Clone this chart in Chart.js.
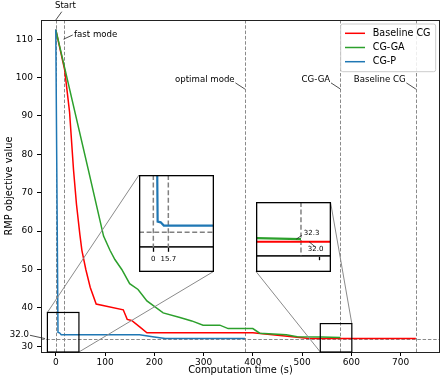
<!DOCTYPE html>
<html><head><meta charset="utf-8">
<script src="https://cdn.jsdelivr.net/npm/chart.js@4.4.1/dist/chart.umd.min.js"></script>
<style>
html,body{margin:0;padding:0;background:#fff;}
#wrap{position:relative;width:444px;height:379px;overflow:hidden;}
#main{position:absolute;left:0;top:0;}
.inset{position:absolute;background:#fff;}
</style></head><body>
<div id="wrap">
<canvas id="main" width="444" height="379"></canvas>
<canvas id="in1" class="inset" width="75" height="97" style="left:139px;top:175px"></canvas>
<canvas id="in2" class="inset" width="75" height="70" style="left:256px;top:202px"></canvas>
</div>
<script>
// ---------------- data ----------------
const seriesNames = ['Baseline CG', 'CG-GA', 'CG-P'];
const baseT = [0, 18, 28, 36, 42, 49, 53, 61, 70, 82, 137, 145, 154, 171, 185, 400, 430, 470, 510, 530, 731];
const baseV = [112.5, 102, 91, 76, 67, 59, 55, 50, 45.3, 41, 39.5, 37, 36.7, 35, 33.5, 33.5, 33.1, 32.6, 32.1, 32.0, 32.0];
const gaT = [0, 66, 97, 110, 120, 134, 150, 167, 185, 218, 252, 276, 299, 333, 350, 400, 414, 468, 490, 540, 578];
const gaV = [112.5, 76, 58.7, 55, 52.6, 50, 46.3, 44.8, 41.8, 38.7, 37.5, 36.6, 35.5, 35.5, 34.6, 34.6, 33.4, 33.0, 32.5, 32.4, 32.3];
const pT = [0, 4.5, 7.7, 11, 170, 200, 222, 384];
const pV = [112.5, 33.6, 33.5, 33.0, 33.0, 32.4, 32.0, 32.0];

const markerT = [0, 15.7, 384, 578, 731];
const markerLabels = ['Start', 'fast mode', 'optimal mode', 'CG-GA', 'Baseline CG'];
const markerAnchorV = [115, 110, 97, 97, 97];
const bestValue = 32.0;
const bestLabel = '32.0';
const bestAnchorT = -22;

const xTicks = [0, 100, 200, 300, 400, 500, 600, 700];
const yTicks = [30, 40, 50, 60, 70, 80, 90, 100, 110];
const xRange = [-30, 780];
const yRange = [28.5, 115];

// zoom windows (source rectangles) and inset axis ranges
const zoom1X = [-17, 47], zoom1Y = [28.5, 38.8];
const zoom2X = [537, 601], zoom2Y = [28.5, 35.9];
const in1X = [-15, 63.5], in1Y = [29.7, 40.7];
const in1Ticks = [0, 15.7], in1TickLabels = ['0', '15.7'];
const in2X = [539.2, 603.9], in2Y = [30.43, 36.48];
const in2Ticks = [594], in2TickLabels = [''];
const gaFinal = 32.3, gaFinalLabel = '32.3', gaFinalAnchorT = 574;
const baseFinal = 32.0, baseFinalLabel = '32.0', baseFinalAnchorT = 585;

// ---------------- style ----------------
const FONT = "'DejaVu Sans', sans-serif";
const RED = '#ff0000', GREEN = '#2ca02c', BLUE = '#1f77b4';
const colors = [RED, GREEN, BLUE];
const pts = (t, v) => t.map((x, i) => ({x: x, y: v[i]}));

function seg(ctx, x1, y1, x2, y2) { ctx.beginPath(); ctx.moveTo(x1, y1); ctx.lineTo(x2, y2); ctx.stroke(); }

const INSET1 = {left: 139, top: 175, w: 75, h: 97};
const INSET2 = {left: 256, top: 202, w: 75, h: 70};

const overlay = {
  id: 'overlay',
  beforeDatasetsDraw(chart) {
    const {ctx, chartArea: a, scales: {x, y}} = chart;
    ctx.save();
    ctx.beginPath(); ctx.rect(a.left, a.top, a.right - a.left, a.bottom - a.top); ctx.clip();
    ctx.strokeStyle = '#8a8a8a'; ctx.lineWidth = 1; ctx.setLineDash([3.5, 1.8]);
    markerT.forEach(t => { const px = Math.round(x.getPixelForValue(t)) + 0.5; seg(ctx, px, a.top, px, a.bottom); });
    const py = Math.round(y.getPixelForValue(bestValue)) + 0.5;
    seg(ctx, a.left, py, a.right, py);
    ctx.restore();
  },
  afterDatasetsDraw(chart) {
    const {ctx, chartArea: a, scales: {x, y}} = chart;
    ctx.save();
    ctx.strokeStyle = '#222'; ctx.lineWidth = 1;
    ctx.strokeRect(a.left + 0.5, a.top + 0.5, a.right - a.left - 1, a.bottom - a.top);
    const r1 = {l: x.getPixelForValue(zoom1X[0]), r: x.getPixelForValue(zoom1X[1]), t: y.getPixelForValue(zoom1Y[1]), b: y.getPixelForValue(zoom1Y[0])};
    const r2 = {l: x.getPixelForValue(zoom2X[0]), r: x.getPixelForValue(zoom2X[1]), t: y.getPixelForValue(zoom2Y[1]), b: y.getPixelForValue(zoom2Y[0])};
    ctx.strokeStyle = '#8a8a8a'; ctx.lineWidth = 1;
    seg(ctx, r1.l, r1.t, INSET1.left, INSET1.top);
    seg(ctx, r1.r, r1.b, INSET1.left + INSET1.w - 0.5, INSET1.top + INSET1.h - 0.5);
    seg(ctx, r2.l, r2.b, INSET2.left, INSET2.top + INSET2.h - 0.5);
    seg(ctx, r2.r, r2.t, INSET2.left + INSET2.w - 0.5, INSET2.top);
    ctx.strokeStyle = '#000'; ctx.lineWidth = 1.2;
    ctx.strokeRect(r1.l, r1.t, r1.r - r1.l, r1.b - r1.t);
    ctx.strokeRect(r2.l, r2.t, r2.r - r2.l, r2.b - r2.t);
    ctx.restore();

    ctx.save();
    ctx.fillStyle = '#000'; ctx.strokeStyle = '#222'; ctx.lineWidth = 0.8;
    ctx.font = '8.6px ' + FONT; ctx.textBaseline = 'middle';
    markerT.forEach((t, i) => {
      const ax = x.getPixelForValue(t), ay = y.getPixelForValue(markerAnchorV[i]);
      if (i === 0) {
        seg(ctx, ax + 6, ay - 8.3, ax, ay);
        ctx.textAlign = 'center'; ctx.fillText(markerLabels[i], ax + 9.7, ay - 14.5);
      } else if (i === 1) {
        seg(ctx, ax + 9.2, ay - 4.2, ax, ay);
        ctx.textAlign = 'left'; ctx.fillText(markerLabels[i], ax + 10.5, ay - 4.2);
      } else {
        seg(ctx, ax - 9.5, ay - 6.2, ax, ay);
        ctx.textAlign = 'right'; ctx.fillText(markerLabels[i], ax - 10.3, ay - 9.3);
      }
    });
    const bx = x.getPixelForValue(bestAnchorT), by = y.getPixelForValue(bestValue);
    seg(ctx, bx - 15, by - 3.3, bx, by);
    ctx.textAlign = 'right'; ctx.fillText(bestLabel, bx - 16, by - 4.3);
    ctx.restore();

    ctx.save();
    const lw = 95, lh = 47.7;
    const lx = a.right - 4.3 - lw, ly = a.top + 4;
    ctx.fillStyle = 'rgba(255,255,255,0.85)'; ctx.strokeStyle = '#cccccc'; ctx.lineWidth = 1;
    ctx.beginPath();
    if (ctx.roundRect) ctx.roundRect(lx, ly, lw, lh, 2); else ctx.rect(lx, ly, lw, lh);
    ctx.fill(); ctx.stroke();
    ctx.font = '9.6px ' + FONT; ctx.textBaseline = 'middle'; ctx.textAlign = 'left';
    seriesNames.forEach((n, i) => {
      const yy = ly + 9.3 + i * 14.2;
      ctx.strokeStyle = colors[i]; ctx.lineWidth = 1.5;
      seg(ctx, lx + 4.3, yy, lx + 24.3, yy);
      ctx.fillStyle = '#000'; ctx.fillText(n, lx + 32, yy);
    });
    ctx.restore();
  }
};

new Chart(document.getElementById('main'), {
  type: 'line',
  data: {datasets: [
    {label: seriesNames[0], data: pts(baseT, baseV), borderColor: RED, borderWidth: 1.5, order: 2},
    {label: seriesNames[1], data: pts(gaT, gaV), borderColor: GREEN, borderWidth: 1.5, order: 1},
    {label: seriesNames[2], data: pts(pT, pV), borderColor: BLUE, borderWidth: 1.5, order: 0}
  ]},
  options: {
    responsive: false, animation: false, devicePixelRatio: 1,
    elements: {point: {radius: 0}, line: {tension: 0, fill: false}},
    layout: {padding: {left: 0, right: 4, top: 20, bottom: 0}, autoPadding: false},
    plugins: {legend: {display: false}, tooltip: {enabled: false}},
    scales: {
      x: {type: 'linear', min: xRange[0], max: xRange[1],
        afterBuildTicks: s => { s.ticks = xTicks.map(v => ({value: v})); },
        afterFit: s => { s.height = 27; },
        grid: {drawOnChartArea: false, tickLength: 4, color: '#000'},
        border: {display: false},
        ticks: {color: '#000', font: {family: FONT, size: 9}, padding: 1, maxRotation: 0, autoSkip: false,
          callback: v => String(v)},
        title: {display: true, text: 'Computation time (s)', color: '#000', font: {family: FONT, size: 9.8}, padding: {top: 0, bottom: 3}}
      },
      y: {type: 'linear', min: yRange[0], max: yRange[1],
        afterBuildTicks: s => { s.ticks = yTicks.map(v => ({value: v})); },
        afterFit: s => { s.width = 41; },
        grid: {drawOnChartArea: false, tickLength: 4, color: '#000'},
        border: {display: false},
        ticks: {color: '#000', font: {family: FONT, size: 9}, padding: 4, autoSkip: false, callback: v => String(v)},
        title: {display: true, text: 'RMP objective value', color: '#000', font: {family: FONT, size: 9.8}, padding: {top: 3.3, bottom: 0}}
      }
    }
  },
  plugins: [overlay]
});

function insetPlugin(cfg) {
  return {
    id: 'insetdeco',
    beforeDatasetsDraw(chart) {
      const {ctx, chartArea: a, scales: {x, y}} = chart;
      ctx.save();
      ctx.beginPath(); ctx.rect(a.left, a.top, a.right - a.left, a.bottom - a.top); ctx.clip();
      ctx.strokeStyle = '#808080'; ctx.lineWidth = 1.5; ctx.setLineDash([5, 2.6]);
      cfg.vlines.forEach(t => { const px = x.getPixelForValue(t); seg(ctx, px, a.top, px, a.bottom); });
      cfg.hlines.forEach(v => { const py = y.getPixelForValue(v); seg(ctx, a.left, py, a.right, py); });
      ctx.restore();
    },
    afterDatasetsDraw(chart) {
      const {ctx, scales: {x, y}} = chart;
      ctx.save();
      if (cfg.notes) {
        ctx.font = '7px ' + FONT; ctx.fillStyle = '#000'; ctx.strokeStyle = '#222'; ctx.lineWidth = 0.8;
        ctx.textBaseline = 'middle';
        cfg.notes.forEach(n => {
          const ax = x.getPixelForValue(n.t), ay = y.getPixelForValue(n.v);
          seg(ctx, ax, ay, ax + n.lx, ay + n.ly);
          ctx.textAlign = n.align; ctx.fillText(n.text, ax + n.tx, ay + n.ty);
        });
      }
      ctx.restore();
    },
    afterDraw(chart) {
      const ctx = chart.ctx;
      ctx.save(); ctx.strokeStyle = '#000'; ctx.lineWidth = 1.3;
      ctx.strokeRect(0.65, 0.65, chart.width - 1.3, chart.height - 1.3);
      ctx.restore();
    }
  };
}

function insetOptions(xr, yr, ticks, labels, axisH) {
  return {
    responsive: false, animation: false, devicePixelRatio: 1,
    elements: {point: {radius: 0}, line: {tension: 0, fill: false}},
    layout: {padding: 0, autoPadding: false},
    plugins: {legend: {display: false}, tooltip: {enabled: false}},
    scales: {
      x: {type: 'linear', min: xr[0], max: xr[1],
        afterBuildTicks: s => { s.ticks = ticks.map(v => ({value: v})); },
        afterFit: s => { s.height = axisH; },
        grid: {drawOnChartArea: false, tickLength: 4.5, color: '#000', tickWidth: 1.3},
        border: {display: true, color: '#222', width: 1.8},
        ticks: {color: '#000', font: {family: FONT, size: 7}, padding: 3, maxRotation: 0, autoSkip: false,
          callback: (v, i) => labels[i]}
      },
      y: {display: false, min: yr[0], max: yr[1]}
    }
  };
}

new Chart(document.getElementById('in1'), {
  type: 'line',
  data: {datasets: [{label: seriesNames[2], data: pts(pT, pV), borderColor: BLUE, borderWidth: 2.2}]},
  options: insetOptions(in1X, in1Y, in1Ticks, in1TickLabels, 24.7),
  plugins: [insetPlugin({vlines: [markerT[0], markerT[1]], hlines: [bestValue]})]
});

new Chart(document.getElementById('in2'), {
  type: 'line',
  data: {datasets: [
    {label: seriesNames[0], data: pts(baseT, baseV), borderColor: RED, borderWidth: 2.2, order: 1},
    {label: seriesNames[1], data: pts(gaT, gaV), borderColor: GREEN, borderWidth: 2.2, order: 0}
  ]},
  options: insetOptions(in2X, in2Y, in2Ticks, in2TickLabels, 16.3),
  plugins: [insetPlugin({vlines: [markerT[3]], hlines: [],
    notes: [
      {t: gaFinalAnchorT, v: gaFinal, text: gaFinalLabel, lx: 5.5, ly: -3.8, tx: 7.5, ty: -6.2, align: 'left'},
      {t: baseFinalAnchorT, v: baseFinal, text: baseFinalLabel, lx: 5.5, ly: 4.6, tx: 6.5, ty: 7, align: 'center'}
    ]})]
});
</script>
</body></html>
